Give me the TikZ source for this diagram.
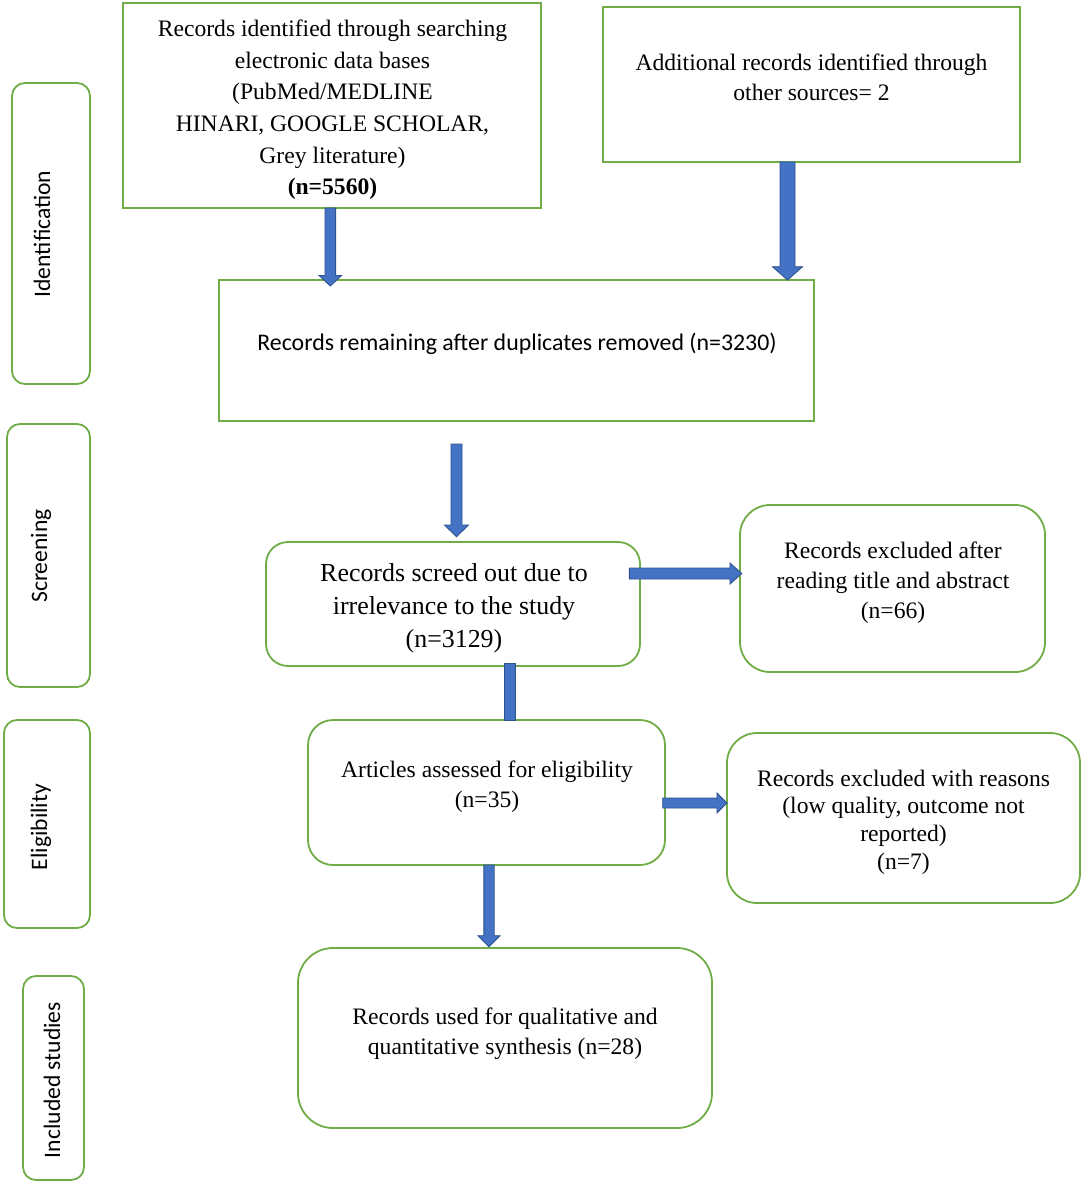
\documentclass[tikz,border=0pt]{standalone}
\usepackage{fontspec}
\setmainfont{Liberation Serif}
\newfontfamily\calfont{Carlito}
\usetikzlibrary{calc}
\definecolor{boxgreen}{HTML}{70AD47}
\definecolor{arrfill}{HTML}{4472C4}
\definecolor{arrline}{HTML}{2F528F}
% vertical (downward) block arrow: start, tip, half shaft, half head, head length
\newcommand\varrow[5]{\draw[barrow] ($(#1)+(-#3,0)$) -- ($(#2)+(-#3,-#5)$) -- ($(#2)+(-#4,-#5)$) -- (#2) -- ($(#2)+(#4,-#5)$) -- ($(#2)+(#3,-#5)$) -- ($(#1)+(#3,0)$) -- cycle;}
% horizontal (rightward) block arrow
\newcommand\harrow[5]{\draw[barrow] ($(#1)+(0,-#3)$) -- ($(#2)+(-#5,-#3)$) -- ($(#2)+(-#5,-#4)$) -- (#2) -- ($(#2)+(-#5,#4)$) -- ($(#2)+(-#5,#3)$) -- ($(#1)+(0,#3)$) -- cycle;}
\begin{document}
\begin{tikzpicture}[x=1pt,y=-1pt,
  box/.style={draw=boxgreen, line width=1.8pt, outer sep=0pt, inner sep=0pt},
  sqbox/.style={box},
  rbox/.style={box, rounded corners=#1},
  rbox/.default=25pt,
  txt/.style={inner sep=0pt, align=center, font=\fontsize{23.6}{#1}\selectfont},
  txt/.default=30pt,
  sidelbl/.style={inner sep=0pt, rotate=90, anchor=base, font=\calfont\fontsize{23.6}{28}\selectfont},
  barrow/.style={fill=arrfill, draw=arrline, line width=0.9pt, line join=miter}
]
\useasboundingbox[fill=white] (0,0) rectangle (1084,1185);

% side phase boxes
\node[rbox=13pt, minimum width=78pt, minimum height=301pt] (S1) at (51,233.5) {};
\node[rbox=13pt, minimum width=83pt, minimum height=263pt] (S2) at (48.5,555.5) {};
\node[rbox=13pt, minimum width=86pt, minimum height=208pt] (S3) at (47,824) {};
\node[rbox=13pt, minimum width=61pt, minimum height=204pt] (S4) at (53.5,1078) {};
\node[sidelbl] (lI) at (50,234) {Identification};
\node[sidelbl] (lS) at (47,556) {Screening};
\node[sidelbl] (lE) at (47,827) {Eligibility};
\node[sidelbl] (lN) at (60,1080) {Included studies};

% main boxes
\node[sqbox, minimum width=418pt, minimum height=205pt] (A) at (332,105.5) {};
\node[sqbox, minimum width=417pt, minimum height=155pt] (B) at (811.5,84.5) {};
\node[sqbox, minimum width=595pt, minimum height=141pt] (C) at (516.5,350.5) {};
\node[rbox=22pt, minimum width=374pt, minimum height=124pt] (D) at (453,604) {};
\node[rbox=30pt, minimum width=305pt, minimum height=167pt] (E) at (892.5,588.5) {};
\node[rbox=25pt, minimum width=357pt, minimum height=145pt] (F) at (486.5,792.5) {};
\node[rbox=30pt, minimum width=353pt, minimum height=170pt] (G) at (903.5,818) {};
\node[rbox=35pt, minimum width=414pt, minimum height=180pt] (H) at (505,1038) {};

% texts
\node[txt=31.6pt] (tA) at (332.5,110) {Records identified through searching\\electronic data bases\\(PubMed/MEDLINE\\HINARI, GOOGLE SCHOLAR,\\Grey literature)\\\textbf{(n=5560)}};
\node[txt=30pt] (tB) at (811.5,77.5) {Additional records identified through\\other sources= 2};
\node[inner sep=0pt, anchor=base, font=\calfont\fontsize{23.85}{28}\selectfont] (tC) at (517,350) {Records remaining after duplicates removed (n=3230)};
\node[inner sep=0pt, align=center, font=\fontsize{25.9}{33}\selectfont] (tD) at (454,608.2) {Records screed out due to\\irrelevance to the study\\(n=3129)};
\node[txt=30pt] (tE) at (893,583) {Records excluded after\\reading title and abstract\\(n=66)};
\node[txt=30pt] (tF) at (487,786.8) {Articles assessed for eligibility\\(n=35)};
\node[txt=27.7pt] (tG) at (903.5,822) {Records excluded with reasons\\(low quality, outcome not\\reported)\\(n=7)};
\node[txt=29.5pt] (tH) at (505,1033.6) {Records used for qualitative and\\quantitative synthesis (n=28)};

% connector end points
\coordinate (a1s) at ($(A.south)+(-1.7,0)$);
\coordinate (a1e) at ($(a1s |- C.north)+(0,6)$);
\coordinate (a2s) at ($(B.south)+(-24,0)$);
\coordinate (a2e) at (a2s |- C.north);
\coordinate (a3s) at ($(C.south)+(-60,23)$);
\coordinate (a3e) at ($(a3s |- D.north)+(0,-5.3)$);
\coordinate (a4s) at ($(D.east)+(-10.7,-30.5)$);
\coordinate (a4e) at ($(a4s -| E.west)+(1.7,0)$);
\coordinate (b5s) at ($(D.south)+(56.5,-3)$);
\coordinate (b5e) at (b5s |- F.north);
\coordinate (a6s) at ($(F.east)+(-2.3,10.5)$);
\coordinate (a6e) at (a6s -| G.west);
\coordinate (a7s) at ($(F.south)+(2.5,0)$);
\coordinate (a7e) at ($(a7s |- H.north)+(0,-1.3)$);

% block arrows
\varrow{a1s}{a1e}{5.3}{11.2}{10.5}
\varrow{a2s}{a2e}{7.5}{15}{13.3}
\varrow{a3s}{a3e}{5.5}{12}{11.7}
\harrow{a4s}{a4e}{5.5}{10.5}{11.7}
\draw[barrow] ($(b5s)+(-5.5,0)$) rectangle ($(b5e)+(5.5,0)$);
\harrow{a6s}{a6e}{5}{10}{10}
\varrow{a7s}{a7e}{5.2}{11}{11}
\end{tikzpicture}
\end{document}
